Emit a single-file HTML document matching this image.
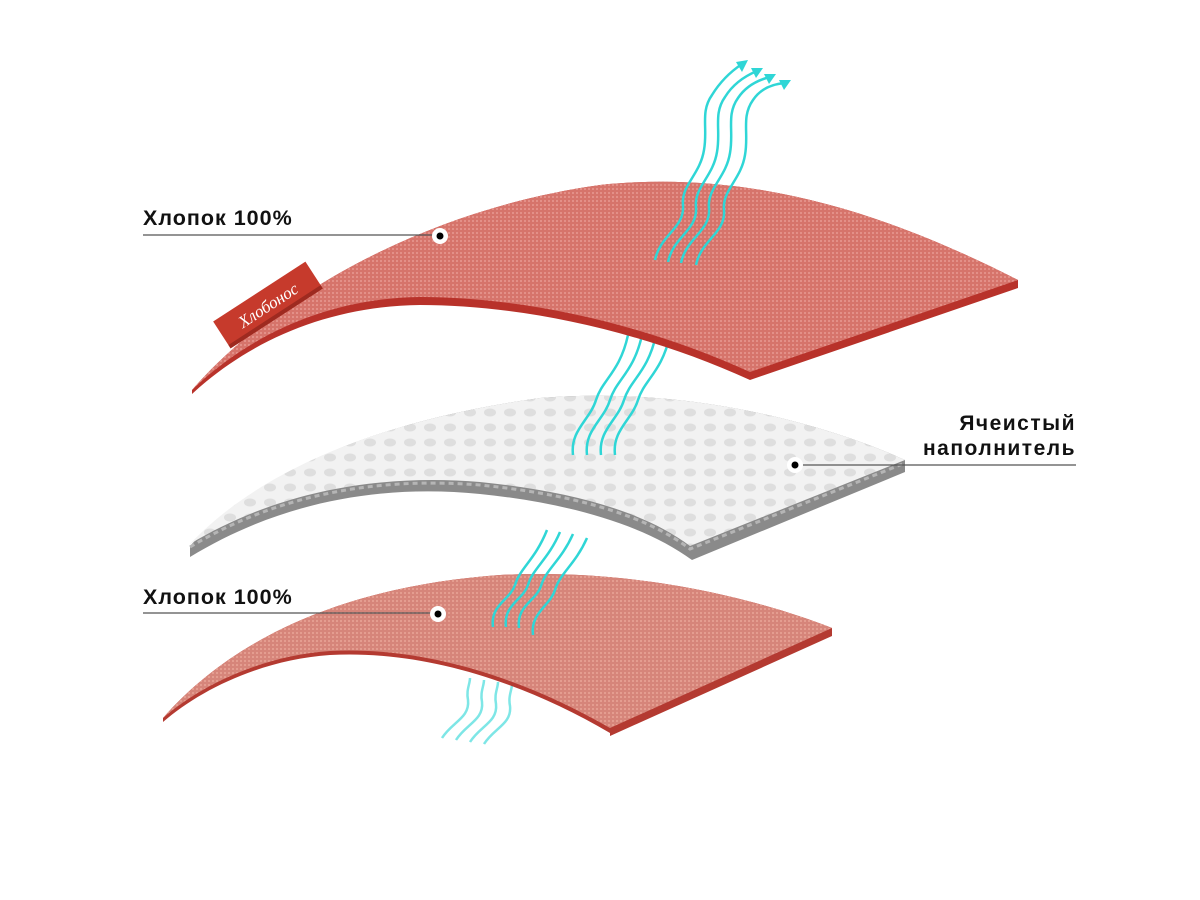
<!DOCTYPE html>
<html><head><meta charset="utf-8"><style>
html,body{margin:0;padding:0;background:#fff;}
svg{display:block;}
text{font-family:"Liberation Sans","DejaVu Sans",sans-serif;font-weight:bold;fill:#111;}
</style></head><body>
<svg width="1200" height="900" viewBox="0 0 1200 900" xmlns="http://www.w3.org/2000/svg">
<defs>
<pattern id="knit" width="4" height="4" patternUnits="userSpaceOnUse">
<rect width="4" height="4" fill="#d6746b"/><rect width="2" height="2" fill="#e39088"/>
</pattern>
<pattern id="knit2" width="4" height="4" patternUnits="userSpaceOnUse">
<rect width="4" height="4" fill="#d6857a"/><rect width="2" height="2" fill="#e49d90"/>
</pattern>
<pattern id="mesh" width="20" height="15" patternUnits="userSpaceOnUse">
<rect width="20" height="15" fill="#f2f2f2"/><ellipse cx="10" cy="7.5" rx="6" ry="4" fill="#dedede"/>
</pattern>
</defs>

<!-- bottom waves (below bottom layer) -->
<g fill="none" stroke="#5fe0e0" stroke-width="2.5" opacity="0.8">
<path d="M442,738 C452,722 470,718 468,700 C466,690 470,684 470,678"/>
<path d="M456,740 C466,724 484,720 482,702 C480,692 484,686 484,680"/>
<path d="M470,742 C480,726 498,722 496,704 C494,694 498,688 498,682"/>
<path d="M484,744 C494,728 512,724 510,706 C508,696 512,690 512,684"/>
</g>

<!-- bottom layer -->
<path d="M163,718 C240,630 360,585 500,575 C640,568 760,600 832,628 L832,636 L610,736 L610,733 C520,680 420,650 330,655 C260,660 200,690 163,722 Z" fill="#b43a31"/>
<path d="M163,718 C240,630 360,585 500,575 C640,568 760,600 832,628 L610,728 C520,676 420,646 330,651 C260,656 200,686 163,718 Z" fill="url(#knit2)"/>

<!-- lower waves -->
<g fill="none" stroke="#2fd6d6" stroke-width="2.5">
<path d="M493,627 C490,605 510,600 515,585 C520,568 535,560 547,530"/>
<path d="M506,627 C503,605 523,600 528,585 C533,568 548,560 560,532"/>
<path d="M519,628 C516,606 536,601 541,586 C546,569 561,561 573,534"/>
<path d="M533,635 C530,613 550,606 555,590 C560,573 575,565 587,538"/>
</g>

<!-- middle layer -->
<path d="M190,546 C260,470 380,420 540,398 C700,385 840,430 905,460 L905,472 L692,560 C640,522 560,502 480,494 C380,484 280,502 190,557 Z" fill="#8a8a8a"/>
<path d="M190,544 C260,470 380,420 540,398 C700,385 840,430 905,460 L690,546 C640,508 560,490 480,482 C380,474 280,490 190,544 Z" fill="url(#mesh)"/>
<path d="M190,547 C280,493 380,477 480,485 C560,493 640,511 690,549 L905,463" fill="none" stroke="#b5b5b5" stroke-width="3" stroke-dasharray="5 4"/>

<!-- middle waves -->
<g fill="none" stroke="#2fd6d6" stroke-width="2.5">
<path d="M573,455 C570,430 590,420 596,400 C602,380 620,372 628,335"/>
<path d="M587,455 C584,430 604,420 610,400 C616,380 634,372 642,335"/>
<path d="M601,455 C598,430 618,420 624,400 C630,380 648,372 656,335"/>
<path d="M615,455 C612,430 632,420 638,400 C644,380 662,372 670,335"/>
</g>

<!-- top layer -->
<path d="M192,390 C270,300 420,210 600,185 C760,168 900,220 1018,280 L1018,288 L750,380 C640,330 520,305 420,305 C330,306 250,340 192,394 Z" fill="#b8322a"/>
<path d="M192,390 C270,300 420,210 600,185 C760,168 900,220 1018,280 L750,372 C640,322 520,297 420,297 C330,298 250,334 192,390 Z" fill="url(#knit)"/>

<!-- tag -->
<g transform="translate(268,305) rotate(-33)">
<rect x="-55" y="-16" width="110" height="32" fill="#c63a2c"/>
<rect x="-55" y="12" width="110" height="4" fill="#9e2a20"/>
<text x="0" y="6" text-anchor="middle" style="font-family:'Liberation Serif',serif;font-style:italic;font-weight:normal;font-size:17px;fill:#fff">Хлобонос</text>
</g>

<!-- top waves -->
<g fill="none" stroke="#2fd6d6" stroke-width="2.5">
<path d="M655,260 C660,235 685,228 683,205 C681,185 700,175 704,150 C708,128 700,112 712,95 C720,82 730,72 742,64"/>
<path d="M668,262 C673,237 698,230 696,207 C694,187 713,177 717,152 C721,130 713,114 725,97 C733,84 745,76 757,71"/>
<path d="M681,263 C686,238 711,231 709,208 C707,188 726,178 730,153 C734,131 726,115 738,98 C746,86 758,80 770,77"/>
<path d="M696,265 C701,240 726,233 724,210 C722,190 741,180 745,155 C749,133 741,117 753,100 C761,88 773,84 785,83"/>
</g>
<g fill="#2fd6d6">
<polygon points="748,60 736,62 742,72"/>
<polygon points="763,68 751,68 756,78"/>
<polygon points="776,74 764,74 769,84"/>
<polygon points="791,80 779,80 784,90"/>
</g>

<!-- labels -->
<text x="143" y="225" style="font-size:21.5px;letter-spacing:1px">Хлопок 100%</text>
<line x1="143" y1="235" x2="440" y2="235" stroke="#555" stroke-width="1.2"/>
<circle cx="440" cy="236" r="8" fill="#fff"/><circle cx="440" cy="236" r="3.5" fill="#000"/>

<text x="143" y="604" style="font-size:21.5px;letter-spacing:1px">Хлопок 100%</text>
<line x1="143" y1="613" x2="438" y2="613" stroke="#555" stroke-width="1.2"/>
<circle cx="438" cy="614" r="8" fill="#fff"/><circle cx="438" cy="614" r="3.5" fill="#000"/>

<text x="1076" y="430" text-anchor="end" style="font-size:21px;letter-spacing:1.5px">Ячеистый</text>
<text x="1076" y="455" text-anchor="end" style="font-size:21px;letter-spacing:1.5px">наполнитель</text>
<line x1="795" y1="465" x2="1076" y2="465" stroke="#555" stroke-width="1.2"/>
<circle cx="795" cy="465" r="8" fill="#fff"/><circle cx="795" cy="465" r="3.5" fill="#000"/>
</svg>
</body></html>
